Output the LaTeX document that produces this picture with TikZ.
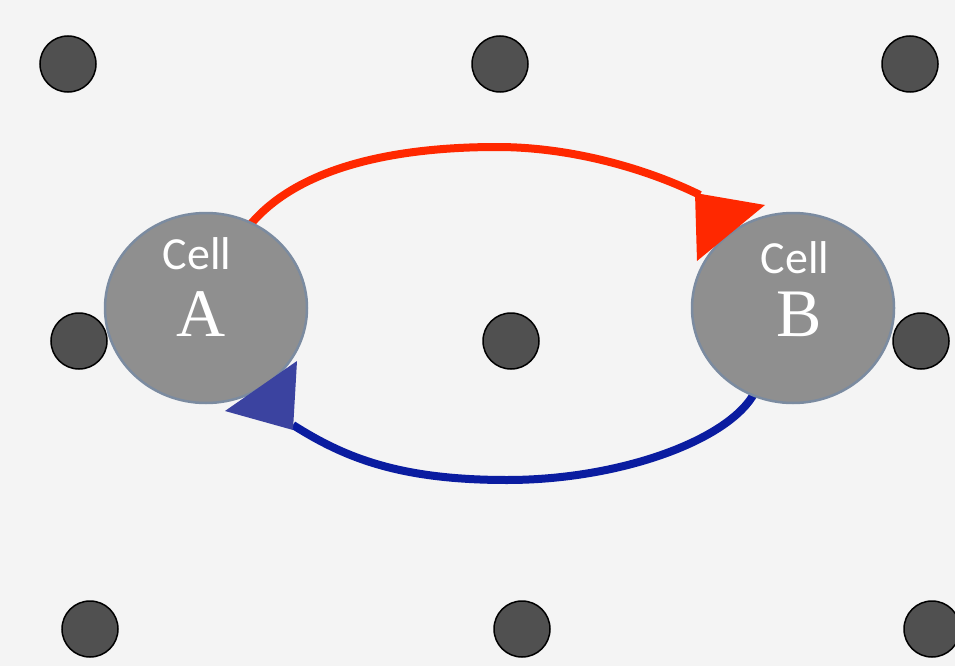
\documentclass[tikz,border=0pt]{standalone}
\usepackage{fontspec}
\setmainfont{Liberation Serif}
\newfontfamily\cellfont{Carlito}
\usetikzlibrary{shapes.geometric}
\definecolor{bg}{HTML}{F4F4F4}
\definecolor{dotfill}{HTML}{505050}
\definecolor{cellfill}{HTML}{8F8F8F}
\definecolor{cellline}{HTML}{7B8BA0}
\definecolor{redc}{HTML}{FF2800}
\definecolor{bluec}{HTML}{0A1CA0}
\definecolor{bluehead}{HTML}{3B43A0}
\tikzset{
  dot/.style={circle, draw=black, line width=1.5pt, fill=dotfill, minimum size=56pt, inner sep=0pt},
  cell/.style={ellipse, draw=cellline, line width=2.5pt, fill=cellfill, minimum width=202pt, minimum height=190pt, inner sep=0pt},
  celltxt/.style={anchor=base, text=white, inner sep=0pt, font=\cellfont\fontsize{46}{50}\selectfont},
  lettxt/.style={anchor=base, text=white, inner sep=0pt, font=\fontsize{68}{72}\selectfont},
  redline/.style={draw=redc, line width=8pt},
  blueline/.style={draw=bluec, line width=8pt},
}
\begin{document}
\begin{tikzpicture}[x=1pt,y=-1pt]
\fill[bg] (0,0) rectangle (955,666);
\useasboundingbox (0,0) rectangle (955,666);
% dots
\node[dot] (d1) at (68,64) {};
\node[dot] (d2) at (500,64) {};
\node[dot] (d3) at (910,64) {};
\node[dot] (d4) at (79,341) {};
\node[dot] (d5) at (511,341) {};
\node[dot] (d6) at (921,341) {};
\node[dot] (d7) at (90,629) {};
\node[dot] (d8) at (522,629) {};
\node[dot] (d9) at (932,629) {};
% curves
\coordinate (rs) at (250,225);
\coordinate (rm) at (497,147);
\coordinate (re) at (700,195);
\coordinate (bs) at (755,392);
\coordinate (bm) at (507,480);
\coordinate (be) at (293,425);
\draw[redline] (rs) .. controls (300,165) and (400,147) .. (rm)
               .. controls (570,147) and (645,168) .. (re);
\draw[blueline] (bs) .. controls (730,440) and (620,480) .. (bm)
                .. controls (400,480) and (345,458) .. (be);
% cells
\node[cell] (A) at (206,308) {};
\node[cell] (B) at (793,308) {};
% arrowheads
\fill[redc] (695,193) -- (765,205) -- (697,261) -- cycle;
\fill[bluehead] (297,361) -- (225,411) -- (293,430) -- cycle;
% text
\node[celltxt] (ca) at (197,269) {Cell};
\node[lettxt] (la) at (201,336) {A};
\node[celltxt] (cb) at (795,273) {Cell};
\node[lettxt] (lb) at (799,336) {B};
\end{tikzpicture}
\end{document}
